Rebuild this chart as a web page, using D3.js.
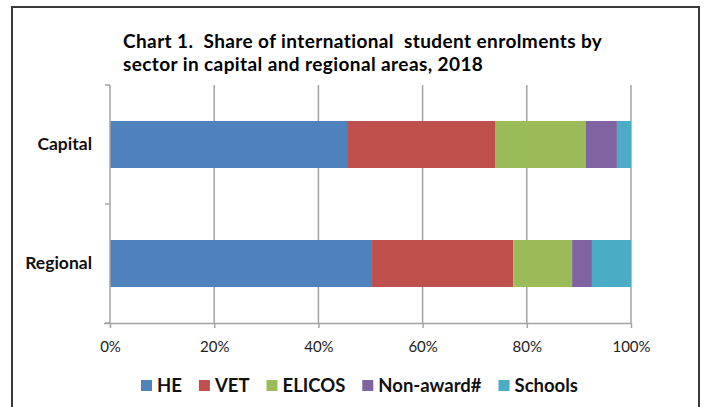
<!DOCTYPE html>
<html>
<head>
<meta charset="utf-8">
<script src="https://cdn.jsdelivr.net/npm/d3@7"></script>
<style>
  body { margin: 0; background: #fff; }
  text { font-family: Lato, "Open Sans", sans-serif; }
</style>
</head>
<body>
<div id="chart"></div>
<script>
// data
var categories = ["Capital", "Regional"];
var sectors = ["HE", "VET", "ELICOS", "Non-award#", "Schools"];
var capital_values = [45.5, 28.4, 17.4, 6.0, 2.7];
var regional_values = [50.3, 27.1, 11.3, 3.8, 7.5];
var tick_values = [0, 20, 40, 60, 80, 100];
var title_lines = ["Chart 1.  Share of international  student enrolments by",
                   "sector in capital and regional areas, 2018"];

var colors = ["#4F81BD", "#C0504D", "#9BBB59", "#8064A2", "#4BACC6"];

var chart_width = 708;
var chart_height = 407;

var svg = d3.select("#chart")
            .append("svg")
            .attr("width", chart_width)
            .attr("height", chart_height);

// outer frame (bottom edge falls outside the picture)
svg.append("rect")
   .attr("x", 12)
   .attr("y", 7)
   .attr("width", 687)
   .attr("height", 430)
   .attr("fill", "#fff")
   .attr("stroke", "#3a3a3a")
   .attr("stroke-width", 2);

// title
svg.selectAll(".title")
   .data(title_lines)
   .enter()
   .append("text")
   .attr("class", "title")
   .attr("x", 123)
   .attr("y", function(d, i){ return 48 + i * 23; })
   .style("white-space", "pre")
   .style("font-weight", "bold")
   .style("font-size", "19px")
   .style("letter-spacing", "0.4px")
   .attr("fill", "#000")
   .text(function(d){ return d; });

// scales
var x = d3.scaleLinear().domain([0, 100]).range([110, 631]);
var y = d3.scaleBand().domain(categories).range([85, 323])
          .paddingInner(0.605).paddingOuter(0.3025);

// gridlines
svg.append("g")
   .selectAll("line")
   .data(tick_values.slice(1))
   .enter()
   .append("line")
   .attr("x1", function(d){ return x(d); })
   .attr("x2", function(d){ return x(d); })
   .attr("y1", 85)
   .attr("y2", 323)
   .attr("stroke", "#a3a3a3")
   .attr("stroke-width", 1.5);

// stack the rows
var rows = categories.map(function(c, i){
    var vals = i === 0 ? capital_values : regional_values;
    var row = { category: c };
    sectors.forEach(function(s, j){ row[s] = vals[j]; });
    return row;
});
var stacked = d3.stack().keys(sectors)(rows);

svg.append("g")
   .selectAll("g")
   .data(stacked)
   .enter()
   .append("g")
   .attr("fill", function(d, i){ return colors[i]; })
   .selectAll("rect")
   .data(function(d){ return d; })
   .enter()
   .append("rect")
   .attr("x", function(d){ return x(d[0]); })
   .attr("width", function(d){ return x(d[1]) - x(d[0]); })
   .attr("y", function(d){ return y(d.data.category); })
   .attr("height", y.bandwidth());

// x axis
var x_axis = svg.append("g")
   .attr("transform", "translate(0,323)")
   .call(d3.axisBottom(x)
           .tickValues(tick_values)
           .tickFormat(function(d){ return d + "%"; })
           .tickSize(5)
           .tickPadding(13)
           .tickSizeOuter(0));
x_axis.select(".domain").attr("stroke", "#a3a3a3").attr("stroke-width", 1.5)
      .attr("d", "M104,0.5H631");
x_axis.selectAll(".tick line").attr("stroke", "#a3a3a3").attr("stroke-width", 1.5);
x_axis.selectAll(".tick text")
      .style("font-size", "15px")
      .attr("fill", "#222");

// y axis
var y_axis = svg.append("g")
   .attr("transform", "translate(110,0)")
   .call(d3.axisLeft(y).tickSize(0).tickPadding(18));
y_axis.select(".domain").attr("stroke", "#a3a3a3").attr("stroke-width", 1.5)
      .attr("d", "M0,85V323");
y_axis.selectAll(".tick text")
      .style("font-size", "17.5px")
      .style("font-weight", "bold")
      .attr("fill", "#111");

// ticks between categories
var bounds = [85].concat(categories.map(function(c){
    return y(c) + y.bandwidth() + y.step() * y.paddingInner() / 2;
}));
bounds[bounds.length - 1] = 323;
y_axis.selectAll(".bound")
      .data(bounds)
      .enter()
      .append("line")
      .attr("class", "bound")
      .attr("x1", -5)
      .attr("x2", 0)
      .attr("y1", function(d){ return d; })
      .attr("y2", function(d){ return d; })
      .attr("stroke", "#a3a3a3")
      .attr("stroke-width", 1.5);

// legend
var legend = svg.append("g").attr("transform", "translate(141,380)");
var lx = 0;
sectors.forEach(function(s, i){
    var item = legend.append("g").attr("transform", "translate(" + lx + ",0)");
    item.append("rect")
        .attr("width", 11)
        .attr("height", 11)
        .attr("fill", colors[i]);
    var t = item.append("text")
        .attr("x", 16)
        .attr("y", 11.5)
        .style("font-size", "18.5px")
        .style("font-weight", "bold")
        .attr("fill", "#111")
        .text(s);
    lx += 16 + t.node().getComputedTextLength() + 17;
});
</script>
</body>
</html>
